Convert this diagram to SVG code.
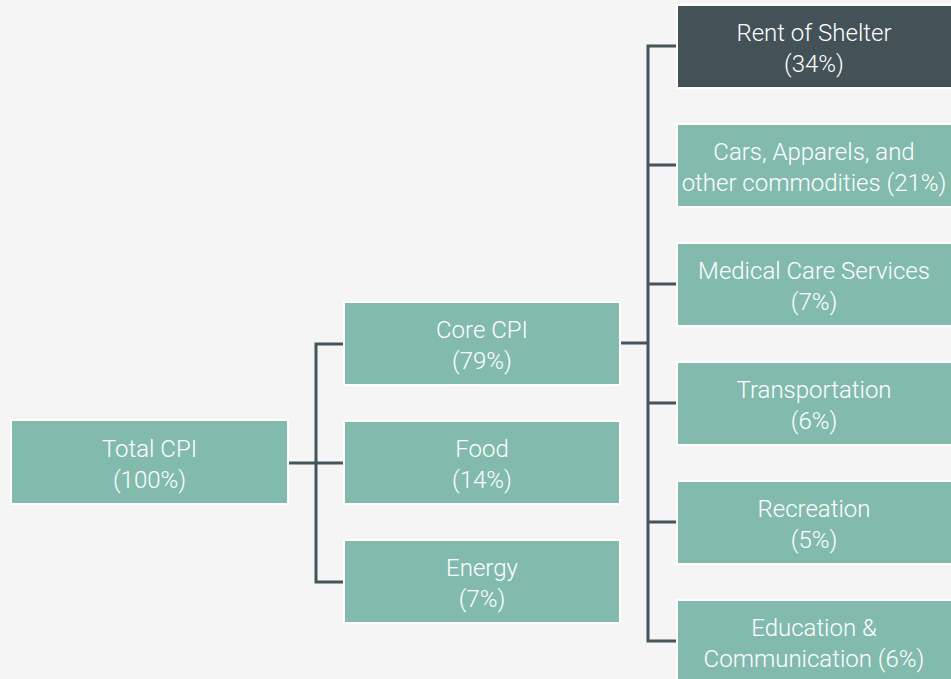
<svg xmlns="http://www.w3.org/2000/svg" width="951" height="679" viewBox="0 0 951 679">
  <style>
    .box { fill: #82bbad; stroke: #ffffff; stroke-width: 2; }
    .box.dark { fill: #435256; }
    .lbl { font-family: Roboto, "Liberation Sans", sans-serif; font-size: 24px; font-weight: 300; fill: #ffffff; text-anchor: middle; }
    .link { fill: none; stroke: #44555a; stroke-width: 3; }
  </style>
  <rect width="951" height="679" fill="#f5f5f5"/>

  <!-- connectors -->
  <g id="connectors">
    <path class="link" d="M288 463 H316"/>
    <path class="link" d="M344 344 H316 V582 H344"/>
    <path class="link" d="M316 463 H344"/>
    <path class="link" d="M620 343 H648"/>
    <path class="link" d="M677 46 H648 V641 H677"/>
    <path class="link" d="M648 165 H677 M648 284 H677 M648 403 H677 M648 522 H677"/>
  </g>

  <!-- level 0 -->
  <g id="total-cpi">
    <rect class="box" x="11" y="420" width="277" height="84"/>
    <text class="lbl" x="149.5" y="457">Total CPI</text>
    <text class="lbl" x="149.5" y="488">(100%)</text>
  </g>

  <!-- level 1 -->
  <g id="core-cpi">
    <rect class="box" x="344" y="302" width="276" height="83"/>
    <text class="lbl" x="482" y="338">Core CPI</text>
    <text class="lbl" x="482" y="369">(79%)</text>
  </g>
  <g id="food">
    <rect class="box" x="344" y="421" width="276" height="83"/>
    <text class="lbl" x="482" y="457">Food</text>
    <text class="lbl" x="482" y="488">(14%)</text>
  </g>
  <g id="energy">
    <rect class="box" x="344" y="540" width="276" height="83"/>
    <text class="lbl" x="482" y="576">Energy</text>
    <text class="lbl" x="482" y="607">(7%)</text>
  </g>

  <!-- level 2: core components -->
  <g id="rent-of-shelter">
    <rect class="box dark" x="677" y="5" width="280" height="83"/>
    <text class="lbl" x="814" y="41">Rent of Shelter</text>
    <text class="lbl" x="814" y="72">(34%)</text>
  </g>
  <g id="cars-apparels">
    <rect class="box" x="677" y="124" width="280" height="83"/>
    <text class="lbl" x="814" y="160">Cars, Apparels, and</text>
    <text class="lbl" x="814" y="191">other commodities (21%)</text>
  </g>
  <g id="medical-care">
    <rect class="box" x="677" y="243" width="280" height="83"/>
    <text class="lbl" x="814" y="279">Medical Care Services</text>
    <text class="lbl" x="814" y="310">(7%)</text>
  </g>
  <g id="transportation">
    <rect class="box" x="677" y="362" width="280" height="83"/>
    <text class="lbl" x="814" y="398">Transportation</text>
    <text class="lbl" x="814" y="429">(6%)</text>
  </g>
  <g id="recreation">
    <rect class="box" x="677" y="481" width="280" height="83"/>
    <text class="lbl" x="814" y="517">Recreation</text>
    <text class="lbl" x="814" y="548">(5%)</text>
  </g>
  <g id="education">
    <rect class="box" x="677" y="600" width="280" height="90"/>
    <text class="lbl" x="814" y="636">Education &amp;</text>
    <text class="lbl" x="814" y="667">Communication (6%)</text>
  </g>
</svg>
